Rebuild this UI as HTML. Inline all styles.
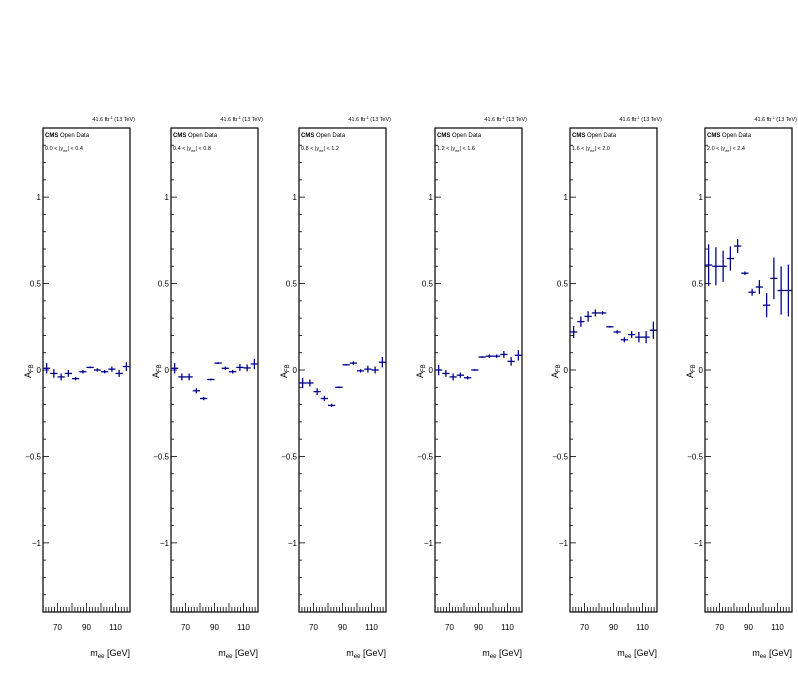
<!DOCTYPE html>
<html><head><meta charset="utf-8">
<style>
body{margin:0;background:#fff;}
svg{display:block;font-family:"Liberation Sans",sans-serif;}
</style></head>
<body>
<svg id="c" width="798" height="676" xmlns="http://www.w3.org/2000/svg"></svg>
<script>
const massBins = [62.5,67.5,72.5,77.5,82.5,87.5,92.5,97.5,102.5,107.5,112.5,117.5];
const rapidityLabels = ["0.0 < |y","0.4 < |y","0.8 < |y","1.2 < |y","1.6 < |y","2.0 < |y"];
const rapidityUpper = ["< 0.4","< 0.8","< 1.2","< 1.6","< 2.0","< 2.4"];
const afb1 = [0.01,-0.02,-0.04,-0.02,-0.05,-0.01,0.015,0.0,-0.01,0.005,-0.02,0.02];
const afb2 = [0.01,-0.04,-0.04,-0.12,-0.165,-0.055,0.04,0.01,-0.01,0.015,0.012,0.035];
const afb3 = [-0.075,-0.075,-0.125,-0.165,-0.205,-0.1,0.03,0.04,-0.005,0.005,0.0,0.045];
const afb4 = [0.0,-0.02,-0.04,-0.03,-0.045,0.0,0.075,0.08,0.08,0.09,0.05,0.085];
const afb5 = [0.22,0.28,0.31,0.33,0.33,0.25,0.22,0.175,0.205,0.19,0.19,0.23];
const afb6 = [0.607,0.6,0.6,0.645,0.717,0.56,0.45,0.48,0.375,0.53,0.46,0.46];
const err1 = [0.03,0.025,0.02,0.02,0.01,0.01,0.005,0.01,0.01,0.015,0.02,0.025];
const err2 = [0.03,0.02,0.02,0.015,0.01,0.005,0.005,0.01,0.01,0.02,0.02,0.03];
const err3 = [0.03,0.02,0.02,0.015,0.01,0.005,0.005,0.01,0.01,0.02,0.02,0.03];
const err4 = [0.03,0.02,0.02,0.015,0.01,0.005,0.005,0.01,0.01,0.02,0.025,0.03];
const err5 = [0.035,0.03,0.03,0.02,0.01,0.005,0.01,0.015,0.02,0.03,0.035,0.05];
const err6 = [0.12,0.11,0.09,0.07,0.04,0.01,0.02,0.04,0.07,0.12,0.14,0.15];
const yTicks = [-1,-0.5,0,0.5,1];
const yTickLabels = ["\u22121","\u22120.5","0","0.5","1"];
const xTicks = [70,90,110];
const series = [afb1,afb2,afb3,afb4,afb5,afb6];
const errs = [err1,err2,err3,err4,err5,err6];

const svg = document.getElementById('c');
const NS = 'http://www.w3.org/2000/svg';
function el(tag, attrs, parent){const e=document.createElementNS(NS,tag);for(const k in attrs)e.setAttribute(k,attrs[k]);(parent||svg).appendChild(e);return e;}
const lefts=[43,171,299,435,570,705];
const W=87, TOP=128, BOT=612;
const yMin=-1.4,yMax=1.4,xMin=60,xMax=120;
for(let p=0;p<6;p++){
  const L=lefts[p];
  const g=el('g',{});
  
  
  const sx=v=>L+(v-xMin)/(xMax-xMin)*W;
  const sy=v=>BOT-(v-yMin)/(yMax-yMin)*(BOT-TOP);
  const fr=el('rect',{x:L,y:TOP,width:W,height:BOT-TOP,fill:'none',stroke:'#000','stroke-width':1.2},g);
  
  
  // y ticks
  for(let i=-14;i<=14;i++){
    const v=i/10, y=sy(v), major=(i%5===0);
    el('line',{x1:L,x2:L+(major?6:3),y1:y,y2:y,stroke:'#000','stroke-width':0.8},g);
  }
  yTicks.forEach((v,i)=>{
    const t=el('text',{x:L-2,y:sy(v)+3,'font-size':8,'text-anchor':'end',fill:'#000'},g);
    t.textContent=yTickLabels[i];
    
    
  });
  // x ticks
  for(let m=60;m<=120;m+=2){
    const major=(m%10===0);
    el('line',{x1:sx(m),x2:sx(m),y1:BOT,y2:BOT-(major?9:5),stroke:'#000','stroke-width':0.8},g);
  }
  xTicks.forEach(v=>{
    const t=el('text',{x:sx(v),y:630,'font-size':8,'text-anchor':'middle',fill:'#000'},g);
    t.textContent=String(v);
    
    
  });
  const xt=el('text',{x:L+W,y:656,'font-size':9,'text-anchor':'end',fill:'#000'},g);
  xt.innerHTML='m<tspan font-size="6" dy="2">ee</tspan><tspan dy="-2"> [GeV]</tspan>';
  
  
  const yt=el('text',{x:0,y:0,'font-size':9,fill:'#000',transform:'translate('+(L-12)+',378) rotate(-90)'},g);
  yt.innerHTML='A<tspan font-size="6" dy="2">FB</tspan>';
  
  
  const lum=el('text',{x:L+W+5,y:121,'font-size':5.5,'text-anchor':'end',fill:'#000'},g);
  lum.innerHTML='41.6 fb<tspan font-size="4" dy="-2">-1</tspan><tspan dy="2"> (13 TeV)</tspan>';
  
  
  const cms=el('text',{x:L+2,y:137,'font-size':6,fill:'#000'},g);
  cms.innerHTML='<tspan font-weight="bold">CMS</tspan> Open Data';
  
  
  const rl=el('text',{x:L+2,y:150,'font-size':5.5,fill:'#000'},g);
  rl.innerHTML=rapidityLabels[p]+'<tspan font-size="4" dy="2">ee</tspan><tspan dy="-2">| '+rapidityUpper[p]+'</tspan>';
  
  
  // points
  const vals=series[p], er=errs[p];
  massBins.forEach((m,i)=>{
    const pt=el('g',{stroke:'#00008b','stroke-width':1.3},g);
    
    
    const y=sy(vals[i]);
    el('line',{x1:sx(m-2.5),x2:sx(m+2.5),y1:y,y2:y},pt);
    el('line',{x1:sx(m),x2:sx(m),y1:sy(vals[i]-er[i]),y2:sy(vals[i]+er[i])},pt);
  });
}
</script>
</body></html>
